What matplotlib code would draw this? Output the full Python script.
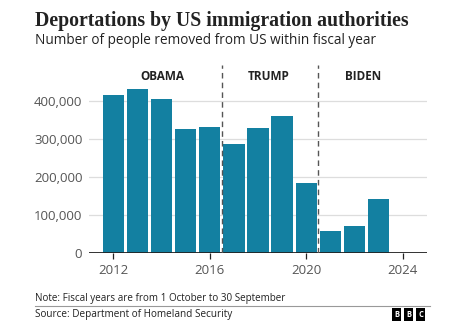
import matplotlib.pyplot as plt
from matplotlib.ticker import FuncFormatter

# fiscal years and removals
years = [2012, 2013, 2014, 2015, 2016, 2017, 2018, 2019, 2020, 2021, 2022, 2023]
removals = [416000, 432000, 404000, 325000, 332000, 287000, 328000, 360000,
            185000, 58500, 72000, 142000]
xticks = [2012, 2016, 2020, 2024]
yticks = [0, 100000, 200000, 300000, 400000]
terms = ["OBAMA", "TRUMP", "BIDEN"]
term_centres = [2014.05, 2018.45, 2022.35]
term_breaks = [2016.5, 2020.5]

bar_color = "#1380A1"
text_grey = "#555555"
sans = ["Open Sans", "DejaVu Sans"]

fig = plt.figure(figsize=(4.74, 3.29), dpi=100)
ax = fig.add_axes([0.1884, 0.2301, 0.7118, 0.5723])

ax.bar(years, removals, width=0.88, color=bar_color, zorder=2)

ax.set_xlim(2011, 2025)
ax.set_ylim(0, 494000)

# light gridlines, dark baseline
for y in yticks[1:]:
    ax.axhline(y, color="#dddddd", lw=0.9, zorder=0)
ax.axhline(0, color="#222222", lw=1.3, zorder=3)

for xb in term_breaks:
    ax.axvline(xb, color="#555555", lw=1.0, ls=(0, (4, 3)), zorder=4)

for name, xc in zip(terms, term_centres):
    ax.text(xc, 465000, name, ha="center", va="center", fontsize=8.5,
            fontweight="bold", family=sans, color="#222222")

for s in ax.spines.values():
    s.set_visible(False)

ax.set_xticks(xticks)
ax.set_yticks(yticks)
ax.yaxis.set_major_formatter(FuncFormatter(lambda v, p: f"{int(v):,}"))
ax.tick_params(axis="y", length=0, pad=5, labelsize=9.5, labelcolor=text_grey)
ax.tick_params(axis="x", length=4, width=0.9, color="#222222", pad=4,
               labelsize=9.5, labelcolor=text_grey)
for lab in ax.get_xticklabels() + ax.get_yticklabels():
    lab.set_family(sans)

fig.text(35 / 474, 1 - 25.7 / 329, "Deportations by US immigration authorities",
         fontsize=14.2, fontweight="bold", family=["Liberation Serif"], color="#222222",
         va="baseline")
fig.text(35 / 474, 1 - 43.5 / 329, "Number of people removed from US within fiscal year",
         fontsize=9.8, family=sans, color="#222222", va="baseline")

fig.text(35 / 474, 1 - 301 / 329, "Note: Fiscal years are from 1 October to 30 September",
         fontsize=7.1, family=sans, color="#222222", va="baseline")
fig.add_artist(plt.Line2D([35 / 474, 430 / 474], [1 - 306 / 329, 1 - 306 / 329],
                          color="#999999", lw=0.8))
fig.text(35 / 474, 1 - 317 / 329, "Source: Department of Homeland Security",
         fontsize=7.2, family=sans, color="#222222", va="baseline")

# BBC blocks
for i, letter in enumerate("BBC"):
    x0 = (392 + i * 12) / 474
    fig.text(x0 + 4.5 / 474, 1 - 314.7 / 329, letter, ha="center", va="center",
             fontsize=5.5, fontweight="bold", family=sans, color="white",
             bbox=dict(boxstyle="square,pad=0.25", fc="black", ec="none"))

fig.savefig("out.png", dpi=100, facecolor="white")
